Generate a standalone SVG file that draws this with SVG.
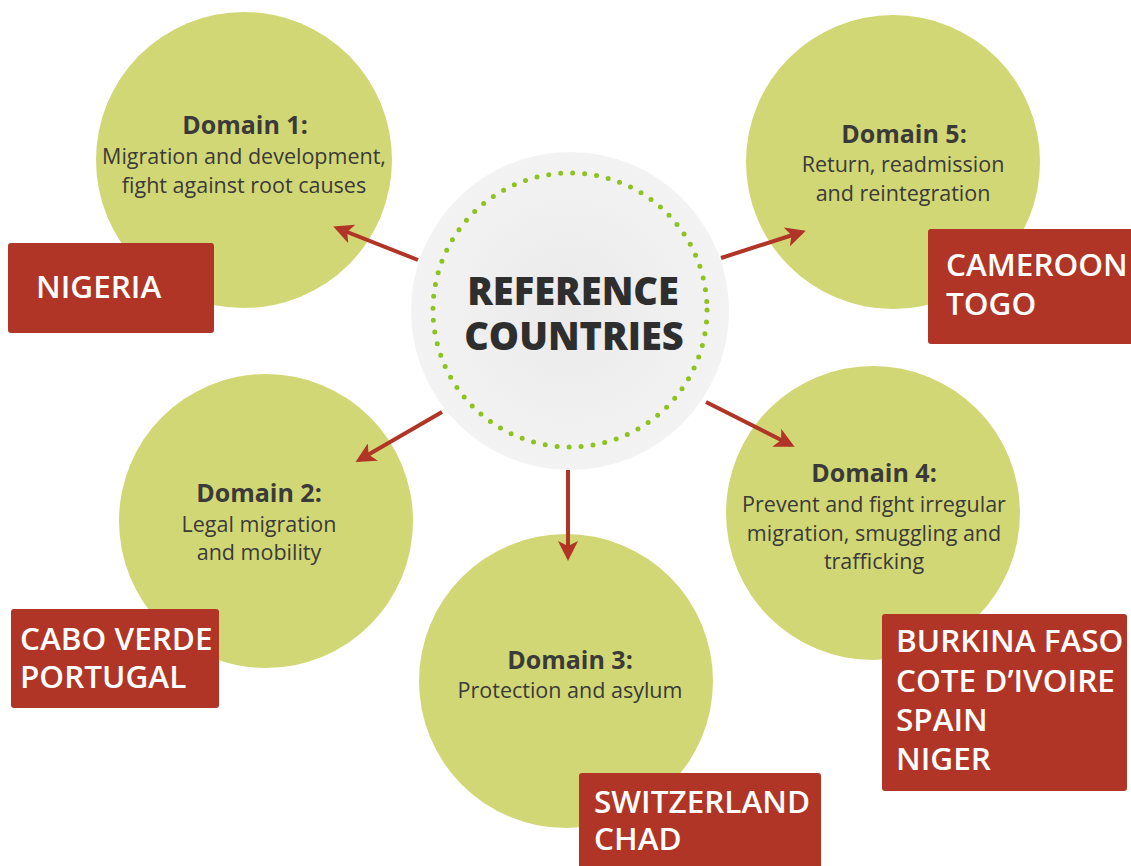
<svg xmlns="http://www.w3.org/2000/svg" width="1131" height="866" viewBox="0 0 1131 866">
<style>
.dom{fill:#d2d775}
.box{fill:#b03526}
.t{font-family:"Open Sans","Liberation Sans",sans-serif;fill:#3a3a3a;text-anchor:middle}
.h{font-size:25px;font-weight:700}
.b{font-size:21.5px;font-weight:400}
.c{font-family:"Open Sans","Liberation Sans",sans-serif;fill:#ffffff;font-size:31.5px;font-weight:600}
.ctr{font-family:"Open Sans","Liberation Sans",sans-serif;fill:#2e2e2e;font-size:38px;font-weight:800;text-anchor:middle}
.arr{stroke:#b03526;stroke-width:4;fill:none;marker-end:url(#ah)}
</style>
<defs>
<marker id="ah" viewBox="0 0 10 10" refX="8" refY="5" markerWidth="5" markerHeight="5" orient="auto" markerUnits="strokeWidth">
<path d="M0,0 L10,5 L0,10 L2.5,5 Z" fill="#b03526"/>
</marker>
<radialGradient id="cg" cx="0.5" cy="0.5" r="0.5">
<stop offset="0" stop-color="#eaeaea"/>
<stop offset="1" stop-color="#f3f3f3"/>
</radialGradient>
</defs>
<rect width="1131" height="866" fill="#ffffff"/>

<g id="domain1">
<circle class="dom" cx="244" cy="160" r="148"/>
<text class="t h" x="245" y="134">Domain 1:</text>
<text class="t b" x="244" y="164">Migration and development,</text>
<text class="t b" x="244" y="193">fight against root causes</text>
</g>
<g id="domain5">
<circle class="dom" cx="893" cy="162" r="147"/>
<text class="t h" x="904" y="143">Domain 5:</text>
<text class="t b" x="903" y="172">Return, readmission</text>
<text class="t b" x="903" y="201">and reintegration</text>
</g>
<g id="domain2">
<circle class="dom" cx="266" cy="521" r="147"/>
<text class="t h" x="259" y="502">Domain 2:</text>
<text class="t b" x="259" y="532">Legal migration</text>
<text class="t b" x="259" y="560">and mobility</text>
</g>
<g id="domain4">
<circle class="dom" cx="873" cy="513" r="147"/>
<text class="t h" x="874" y="482">Domain 4:</text>
<text class="t b" x="874" y="512">Prevent and fight irregular</text>
<text class="t b" x="874" y="541">migration, smuggling and</text>
<text class="t b" x="874" y="569">trafficking</text>
</g>
<g id="domain3">
<circle class="dom" cx="566" cy="681" r="147"/>
<text class="t h" x="570" y="669">Domain 3:</text>
<text class="t b" x="570" y="698">Protection and asylum</text>
</g>

<g id="center">
<circle cx="570" cy="311" r="159" fill="url(#cg)"/>
<circle cx="570" cy="310" r="137" fill="none" stroke="#8dc21f" stroke-width="5" stroke-linecap="round" stroke-dasharray="0 12"/>
<text class="ctr" x="573" y="305">REFERENCE</text>
<text class="ctr" x="574" y="350">COUNTRIES</text>
</g>

<g id="connectors">
<line class="arr" x1="418" y1="260" x2="337" y2="228"/>
<line class="arr" x1="721" y1="258" x2="802" y2="232"/>
<line class="arr" x1="442" y1="412" x2="359" y2="460"/>
<line class="arr" x1="568" y1="470" x2="568" y2="557"/>
<line class="arr" x1="706" y1="402" x2="791" y2="445"/>
</g>

<g id="box-nigeria">
<rect class="box" x="8" y="243" width="206" height="90" rx="3"/>
<text class="c" x="36" y="298">NIGERIA</text>
</g>
<g id="box-cameroon">
<rect class="box" x="928" y="229" width="210" height="115" rx="3"/>
<text class="c" x="946" y="276">CAMEROON</text>
<text class="c" x="946" y="315">TOGO</text>
</g>
<g id="box-caboverde">
<rect class="box" x="11" y="609" width="208" height="99" rx="3"/>
<text class="c" x="20" y="650">CABO VERDE</text>
<text class="c" x="20" y="688">PORTUGAL</text>
</g>
<g id="box-burkina">
<rect class="box" x="882" y="614" width="245" height="177" rx="3"/>
<text class="c" x="896" y="652">BURKINA FASO</text>
<text class="c" x="896" y="692">COTE D’IVOIRE</text>
<text class="c" x="896" y="731">SPAIN</text>
<text class="c" x="896" y="770">NIGER</text>
</g>
<g id="box-switzerland">
<rect class="box" x="579" y="773" width="242" height="100" rx="3"/>
<text class="c" x="594" y="813">SWITZERLAND</text>
<text class="c" x="594" y="850">CHAD</text>
</g>
</svg>
